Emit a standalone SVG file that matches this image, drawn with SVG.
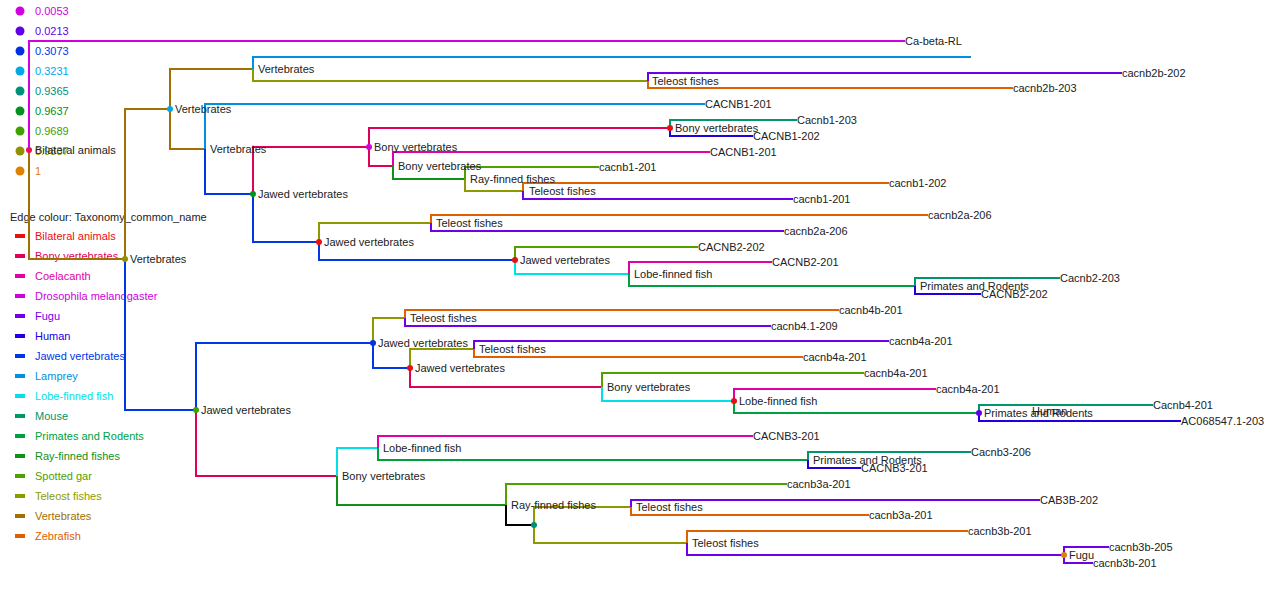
<svg xmlns="http://www.w3.org/2000/svg" width="1275" height="590" viewBox="0 0 1275 590">
  <style>
    text { font-family: "Liberation Sans", Arial, sans-serif; font-size: 11px; dominant-baseline: central; }
    .lbl { fill: #222; }
    .e { fill: none; stroke-width: 2; stroke-linejoin: miter; }
    .dros { stroke: #d000e0; } .fugu { stroke: #7000e8; } .human { stroke: #2000e0; }
    .jawed { stroke: #0038e8; } .lamprey { stroke: #0090e0; } .lobe { stroke: #00e0e8; }
    .mouse { stroke: #00956a; } .prim { stroke: #00a040; } .ray { stroke: #109018; }
    .gar { stroke: #50a000; } .tele { stroke: #8c9a00; } .vert { stroke: #a07000; }
    .zebra { stroke: #e06000; } .bony { stroke: #e0005a; } .coela { stroke: #e000a8; }
    .bil { stroke: #e81010; } .blk { stroke: #000; }
  </style>

  <!-- support value legend -->
  <g id="legend-support">
    <circle cx="20" cy="11" r="4.5" fill="#d000e0"/><text x="35" y="11" fill="#d000e0">0.0053</text>
    <circle cx="20" cy="31" r="4.5" fill="#6000e8"/><text x="35" y="31" fill="#6000e8">0.0213</text>
    <circle cx="20" cy="51" r="4.5" fill="#0030e0"/><text x="35" y="51" fill="#0038e8">0.3073</text>
    <circle cx="20" cy="71" r="4.5" fill="#00a8e8"/><text x="35" y="71" fill="#00a8e8">0.3231</text>
    <circle cx="20" cy="91" r="4.5" fill="#00907a"/><text x="35" y="91" fill="#00907a">0.9365</text>
    <circle cx="20" cy="111" r="4.5" fill="#009020"/><text x="35" y="111" fill="#009020">0.9637</text>
    <circle cx="20" cy="131" r="4.5" fill="#40a000"/><text x="35" y="131" fill="#40a000">0.9689</text>
    <circle cx="20" cy="151" r="4.5" fill="#909000"/><text x="35" y="151" fill="#909000">0.9837</text>
    <circle cx="20" cy="171" r="4.5" fill="#e08000"/><text x="35" y="171" fill="#e08000">1</text>
  </g>

  <!-- edge colour legend -->
  <g id="legend-edges">
    <text x="10" y="217" class="lbl">Edge colour: Taxonomy_common_name</text>
    <rect x="15" y="234" width="10" height="4" fill="#e81010"/><text x="35" y="236" fill="#e81010">Bilateral animals</text>
    <rect x="15" y="254" width="10" height="4" fill="#e0005a"/><text x="35" y="256" fill="#e0005a">Bony vertebrates</text>
    <rect x="15" y="274" width="10" height="4" fill="#e000a8"/><text x="35" y="276" fill="#e000a8">Coelacanth</text>
    <rect x="15" y="294" width="10" height="4" fill="#d000e0"/><text x="35" y="296" fill="#d000e0">Drosophila melanogaster</text>
    <rect x="15" y="314" width="10" height="4" fill="#7000e8"/><text x="35" y="316" fill="#7000e8">Fugu</text>
    <rect x="15" y="334" width="10" height="4" fill="#2000e0"/><text x="35" y="336" fill="#2000e0">Human</text>
    <rect x="15" y="354" width="10" height="4" fill="#0038e8"/><text x="35" y="356" fill="#0038e8">Jawed vertebrates</text>
    <rect x="15" y="374" width="10" height="4" fill="#0090e0"/><text x="35" y="376" fill="#0090e0">Lamprey</text>
    <rect x="15" y="394" width="10" height="4" fill="#00e0e8"/><text x="35" y="396" fill="#00e0e8">Lobe-finned fish</text>
    <rect x="15" y="414" width="10" height="4" fill="#00956a"/><text x="35" y="416" fill="#00956a">Mouse</text>
    <rect x="15" y="434" width="10" height="4" fill="#00a040"/><text x="35" y="436" fill="#00a040">Primates and Rodents</text>
    <rect x="15" y="454" width="10" height="4" fill="#109018"/><text x="35" y="456" fill="#109018">Ray-finned fishes</text>
    <rect x="15" y="474" width="10" height="4" fill="#50a000"/><text x="35" y="476" fill="#50a000">Spotted gar</text>
    <rect x="15" y="494" width="10" height="4" fill="#8c9a00"/><text x="35" y="496" fill="#8c9a00">Teleost fishes</text>
    <rect x="15" y="514" width="10" height="4" fill="#a07000"/><text x="35" y="516" fill="#a07000">Vertebrates</text>
    <rect x="15" y="534" width="10" height="4" fill="#e06000"/><text x="35" y="536" fill="#e06000">Zebrafish</text>
  </g>

  <!-- tree branches: vertical drop at the parent, then horizontal run to the child -->
  <g id="connectors">
    <path class="e dros" d="M29 150V41H905"/>
    <path class="e vert" d="M29 150V259H125"/>
    <path class="e vert" d="M125 259V109H170"/>
    <path class="e jawed" d="M125 259V410H196"/>
    <path class="e vert" d="M170 109V69H253"/>
    <path class="e vert" d="M170 109V149H205"/>
    <path class="e lamprey" d="M253 69V57H971"/>
    <path class="e tele" d="M253 69V81H648"/>
    <path class="e fugu" d="M648 81V73H1122"/>
    <path class="e zebra" d="M648 81V88H1013"/>
    <path class="e lamprey" d="M205 149V104H705"/>
    <path class="e jawed" d="M205 149V194H253"/>
    <path class="e bony" d="M253 194V147H369"/>
    <path class="e jawed" d="M253 194V242H319"/>
    <path class="e bony" d="M369 147V128H670"/>
    <path class="e bony" d="M369 147V166H393"/>
    <path class="e mouse" d="M670 128V120H797"/>
    <path class="e human" d="M670 128V136H753"/>
    <path class="e coela" d="M393 166V152H710"/>
    <path class="e ray" d="M393 166V179H465"/>
    <path class="e gar" d="M465 179V167H599"/>
    <path class="e tele" d="M465 179V191H523"/>
    <path class="e zebra" d="M523 191V183H889"/>
    <path class="e fugu" d="M523 191V199H793"/>
    <path class="e tele" d="M319 242V223H431"/>
    <path class="e jawed" d="M319 242V260H515"/>
    <path class="e zebra" d="M431 223V215H928"/>
    <path class="e fugu" d="M431 223V231H784"/>
    <path class="e gar" d="M515 260V247H698"/>
    <path class="e lobe" d="M515 260V274H629"/>
    <path class="e coela" d="M629 274V262H772"/>
    <path class="e prim" d="M629 274V286H915"/>
    <path class="e mouse" d="M915 286V278H1060"/>
    <path class="e human" d="M915 286V294H981"/>
    <path class="e jawed" d="M196 410V343H373"/>
    <path class="e bony" d="M196 410V476H337"/>
    <path class="e tele" d="M373 343V318H405"/>
    <path class="e jawed" d="M373 343V368H410"/>
    <path class="e zebra" d="M405 318V310H839"/>
    <path class="e fugu" d="M405 318V326H771"/>
    <path class="e tele" d="M410 368V349H474"/>
    <path class="e bony" d="M410 368V387H602"/>
    <path class="e fugu" d="M474 349V341H889"/>
    <path class="e zebra" d="M474 349V357H803"/>
    <path class="e gar" d="M602 387V373H864"/>
    <path class="e lobe" d="M602 387V401H734"/>
    <path class="e coela" d="M734 401V389H936"/>
    <path class="e prim" d="M734 401V413H979"/>
    <path class="e mouse" d="M979 413V405H1153"/>
    <path class="e human" d="M979 413V421H1181"/>
    <path class="e lobe" d="M337 476V448H378"/>
    <path class="e ray" d="M337 476V505H506"/>
    <path class="e coela" d="M378 448V436H753"/>
    <path class="e prim" d="M378 448V460H808"/>
    <path class="e mouse" d="M808 460V452H971"/>
    <path class="e human" d="M808 460V468H861"/>
    <path class="e gar" d="M506 505V484H787"/>
    <path class="e blk" d="M506 505V525H534"/>
    <path class="e tele" d="M534 525V507H631"/>
    <path class="e tele" d="M534 525V543H687"/>
    <path class="e fugu" d="M631 507V500H1040"/>
    <path class="e zebra" d="M631 507V515H869"/>
    <path class="e zebra" d="M687 543V531H968"/>
    <path class="e fugu" d="M687 543V555H1064"/>
    <path class="e fugu" d="M1064 555V547H1109"/>
    <path class="e fugu" d="M1064 555V563H1093"/>
  </g>

  <!-- internal nodes -->
  <g id="n-root"><circle cx="29" cy="150" r="3" fill="#e8105a"/><text x="35" y="150" class="lbl">Bilateral animals</text></g>
  <g id="n-vert1"><circle cx="125" cy="259" r="3" fill="#909000"/><text x="130" y="259" class="lbl">Vertebrates</text></g>
  <g id="n-vert2"><circle cx="170" cy="109" r="3" fill="#00a8e8"/><text x="175" y="109" class="lbl">Vertebrates</text></g>
  <g id="n-vert3"><text x="258" y="69" class="lbl">Vertebrates</text></g>
  <g id="n-tele1"><text x="652" y="81" class="lbl">Teleost fishes</text></g>
  <g id="n-vert4"><text x="210" y="149" class="lbl">Vertebrates</text></g>
  <g id="n-jaw1"><circle cx="253" cy="194" r="3" fill="#009020"/><text x="258" y="194" class="lbl">Jawed vertebrates</text></g>
  <g id="n-bony1"><circle cx="369" cy="147" r="3" fill="#d000e0"/><text x="374" y="147" class="lbl">Bony vertebrates</text></g>
  <g id="n-bony2"><circle cx="670" cy="128" r="3" fill="#e81010"/><text x="675" y="128" class="lbl">Bony vertebrates</text></g>
  <g id="n-bony3"><text x="398" y="166" class="lbl">Bony vertebrates</text></g>
  <g id="n-ray1"><text x="470" y="179" class="lbl">Ray-finned fishes</text></g>
  <g id="n-tele2"><text x="529" y="191" class="lbl">Teleost fishes</text></g>
  <g id="n-jaw2"><circle cx="319" cy="242" r="3" fill="#e81010"/><text x="324" y="242" class="lbl">Jawed vertebrates</text></g>
  <g id="n-tele3"><text x="436" y="223" class="lbl">Teleost fishes</text></g>
  <g id="n-jaw3"><circle cx="515" cy="260" r="3" fill="#e81010"/><text x="520" y="260" class="lbl">Jawed vertebrates</text></g>
  <g id="n-lobe1"><text x="634" y="274" class="lbl">Lobe-finned fish</text></g>
  <g id="n-prim1"><text x="920" y="286" class="lbl">Primates and Rodents</text></g>
  <g id="n-jaw4"><circle cx="196" cy="410" r="3" fill="#40a000"/><text x="201" y="410" class="lbl">Jawed vertebrates</text></g>
  <g id="n-jaw5"><circle cx="373" cy="343" r="3" fill="#0030e0"/><text x="378" y="343" class="lbl">Jawed vertebrates</text></g>
  <g id="n-tele4"><text x="410" y="318" class="lbl">Teleost fishes</text></g>
  <g id="n-jaw6"><circle cx="410" cy="368" r="3" fill="#e81010"/><text x="415" y="368" class="lbl">Jawed vertebrates</text></g>
  <g id="n-tele5"><text x="479" y="349" class="lbl">Teleost fishes</text></g>
  <g id="n-bony4"><text x="607" y="387" class="lbl">Bony vertebrates</text></g>
  <g id="n-lobe2"><circle cx="734" cy="401" r="3" fill="#e81010"/><text x="739" y="401" class="lbl">Lobe-finned fish</text></g>
  <g id="n-prim2"><circle cx="979" cy="413" r="3" fill="#6000e8"/><text x="984" y="413" class="lbl">Primates and Rodents</text><text x="1032" y="411" class="lbl">Human</text></g>
  <g id="n-bony5"><text x="342" y="476" class="lbl">Bony vertebrates</text></g>
  <g id="n-lobe3"><text x="383" y="448" class="lbl">Lobe-finned fish</text></g>
  <g id="n-prim3"><text x="813" y="460" class="lbl">Primates and Rodents</text></g>
  <g id="n-ray2"><text x="511" y="505" class="lbl">Ray-finned fishes</text></g>
  <g id="n-tele6"><circle cx="534" cy="525" r="3" fill="#00907a"/></g>
  <g id="n-tele7"><text x="636" y="507" class="lbl">Teleost fishes</text></g>
  <g id="n-tele8"><text x="692" y="543" class="lbl">Teleost fishes</text></g>
  <g id="n-fugu"><circle cx="1064" cy="555" r="3" fill="#e08000"/><text x="1069" y="555" class="lbl">Fugu</text></g>

  <!-- leaves -->
  <g id="leaves">
    <text x="905" y="41" class="lbl">Ca-beta-RL</text>
    <text x="1122" y="73" class="lbl">cacnb2b-202</text>
    <text x="1013" y="88" class="lbl">cacnb2b-203</text>
    <text x="705" y="104" class="lbl">CACNB1-201</text>
    <text x="797" y="120" class="lbl">Cacnb1-203</text>
    <text x="753" y="136" class="lbl">CACNB1-202</text>
    <text x="710" y="152" class="lbl">CACNB1-201</text>
    <text x="599" y="167" class="lbl">cacnb1-201</text>
    <text x="889" y="183" class="lbl">cacnb1-202</text>
    <text x="793" y="199" class="lbl">cacnb1-201</text>
    <text x="928" y="215" class="lbl">cacnb2a-206</text>
    <text x="784" y="231" class="lbl">cacnb2a-206</text>
    <text x="698" y="247" class="lbl">CACNB2-202</text>
    <text x="772" y="262" class="lbl">CACNB2-201</text>
    <text x="1060" y="278" class="lbl">Cacnb2-203</text>
    <text x="981" y="294" class="lbl">CACNB2-202</text>
    <text x="839" y="310" class="lbl">cacnb4b-201</text>
    <text x="771" y="326" class="lbl">cacnb4.1-209</text>
    <text x="889" y="341" class="lbl">cacnb4a-201</text>
    <text x="803" y="357" class="lbl">cacnb4a-201</text>
    <text x="864" y="373" class="lbl">cacnb4a-201</text>
    <text x="936" y="389" class="lbl">cacnb4a-201</text>
    <text x="1153" y="405" class="lbl">Cacnb4-201</text>
    <text x="1181" y="421" class="lbl">AC068547.1-203</text>
    <text x="753" y="436" class="lbl">CACNB3-201</text>
    <text x="971" y="452" class="lbl">Cacnb3-206</text>
    <text x="861" y="468" class="lbl">CACNB3-201</text>
    <text x="787" y="484" class="lbl">cacnb3a-201</text>
    <text x="1040" y="500" class="lbl">CAB3B-202</text>
    <text x="869" y="515" class="lbl">cacnb3a-201</text>
    <text x="968" y="531" class="lbl">cacnb3b-201</text>
    <text x="1109" y="547" class="lbl">cacnb3b-205</text>
    <text x="1093" y="563" class="lbl">cacnb3b-201</text>
  </g>
</svg>
